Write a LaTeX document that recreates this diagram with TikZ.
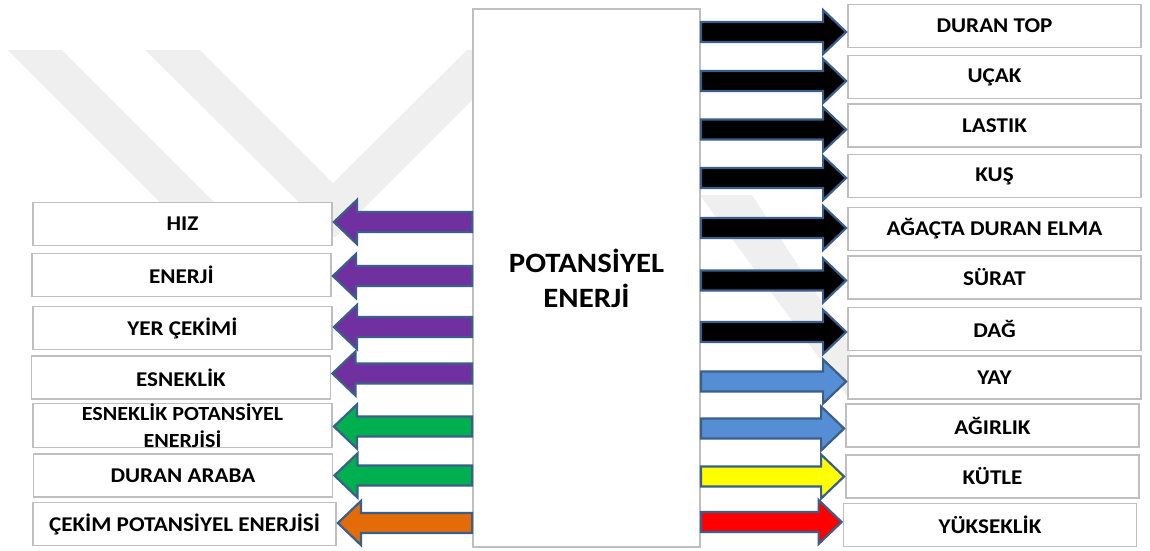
\documentclass[tikz,border=0pt]{standalone}
\usepackage{fontspec}
\setmainfont{Carlito}[FakeStretch=1.1]
\usetikzlibrary{calc}
\definecolor{wm}{HTML}{EFEFEF}
\definecolor{boxline}{HTML}{BFBFBF}
\definecolor{arrline}{HTML}{3A5F8B}
\definecolor{cpurple}{HTML}{7030A0}
\definecolor{cgreen}{HTML}{00B050}
\definecolor{corange}{HTML}{E36C09}
\definecolor{cblue}{HTML}{558ED5}
\definecolor{cyellow}{HTML}{FFFF00}
\definecolor{cred}{HTML}{FF0000}
\tikzset{
  lbox/.style={draw=boxline, line width=1.8pt, fill=white, minimum height=43pt,
    inner sep=0pt, font=\bfseries\fontsize{21}{26}\selectfont, align=center},
  rbox/.style={lbox, minimum width=293pt},
  leftbox/.style={lbox, minimum width=299pt},
  barrow/.style={draw=arrline, line width=2.2pt, line join=miter},
}
% right-pointing block arrow from the centre box to node #2, colour #1, vertical offset #3
\newcommand\rarrow[3]{%
  \draw[barrow, fill=#1] let \p1=(P.east |- #2.west), \p2=(#2.west) in
    (\x1,\y1#3+10pt) -- (\x2-24pt,\y1#3+10pt) -- (\x2-24pt,\y1#3+22pt) --
    (\x2-1pt,\y1#3) -- (\x2-24pt,\y1#3-22pt) -- (\x2-24pt,\y1#3-10pt) --
    (\x1,\y1#3-10pt) -- cycle;}
% left-pointing block arrow from the centre box to node #2
\newcommand\larrow[3]{%
  \draw[barrow, fill=#1] let \p1=(P.west |- #2.east), \p2=(#2.east) in
    (\x1,\y1#3+10pt) -- (\x2+24pt,\y1#3+10pt) -- (\x2+24pt,\y1#3+22pt) --
    (\x2+1pt,\y1#3) -- (\x2+24pt,\y1#3-22pt) -- (\x2+24pt,\y1#3-10pt) --
    (\x1,\y1#3-10pt) -- cycle;}
\begin{document}
\begin{tikzpicture}[x=1pt, y=-1pt]
\useasboundingbox (0,0) rectangle (1150,550);
\fill[white] (0,0) rectangle (1150,550);
% faint watermark
\fill[wm] (8,50) -- (62,50) -- (215,203) -- (161,203) -- cycle;
\fill[wm] (145,50) -- (200,50) -- (333,183) -- (467,50) -- (522,50) -- (334.5,237.5) -- cycle;
\fill[wm] (700,195) -- (752,195) -- (850,345) -- (850,400) -- cycle;

% centre
\node[draw=boxline, line width=1.8pt, fill=white, minimum width=227pt, minimum height=538pt,
  inner sep=0pt, font=\bfseries\fontsize{28}{35}\selectfont, align=center] (P) at (586.5,278) {POTANSİYEL\\ENERJİ};

% right boxes
\node[rbox] (r1) at (994.5,26) {DURAN TOP};
\node[rbox] (r2) at (994.5,77) {UÇAK};
\node[rbox] (r3) at (994.5,125.5) {LASTIK};
\node[rbox] (r4) at (994.5,176) {KUŞ};
\node[rbox] (r5) at (994.5,229) {AĞAÇTA DURAN ELMA};
\node[rbox] (r6) at (994.5,277.5) {SÜRAT};
\node[rbox] (r7) at (994.5,329) {DAĞ};
\node[rbox] (r8) at (994.5,377.5) {YAY};
\node[rbox] (r9) at (992.5,425.5) {AĞIRLIK};
\node[rbox] (r10) at (992.5,476.5) {KÜTLE};
\node[rbox] (r11) at (990,525) {YÜKSEKLİK};

% left boxes
\node[leftbox] (l1) at (182.5,224) {HIZ};
\node[leftbox] (l2) at (181.5,275) {ENERJİ};
\node[leftbox] (l3) at (182.5,328) {YER ÇEKİMİ};
\node[leftbox] (l4) at (181,377.5) {ESNEKLİK};
\node[leftbox, font=\bfseries\fontsize{20}{27}\selectfont] (l5) at (182.5,425.5) {ESNEKLİK POTANSİYEL\\ENERJİSİ};
\node[leftbox] (l6) at (183,475.5) {DURAN ARABA};
\node[leftbox, minimum width=303pt] (l7) at (184.5,524) {ÇEKİM POTANSİYEL ENERJİSİ};

% arrows to the right
\rarrow{black}{r1}{-6pt}
\rarrow{black}{r2}{-4pt}
\rarrow{black}{r3}{-4pt}
\rarrow{black}{r4}{-2pt}
\rarrow{black}{r5}{+1pt}
\rarrow{black}{r6}{-3pt}
\rarrow{black}{r7}{-3pt}
\rarrow{cblue}{r8}{-4pt}
\rarrow{cblue}{r9}{-3pt}
\rarrow{cyellow}{r10}{+0pt}
\rarrow{cred}{r11}{+3pt}

% arrows to the left
\larrow{cpurple}{l1}{+2pt}
\larrow{cpurple}{l2}{-1pt}
\larrow{cpurple}{l3}{+1pt}
\larrow{cpurple}{l4}{+4pt}
\larrow{cgreen}{l5}{-1pt}
\larrow{cgreen}{l6}{+0pt}
\larrow{corange}{l7}{+1pt}
\end{tikzpicture}
\end{document}
